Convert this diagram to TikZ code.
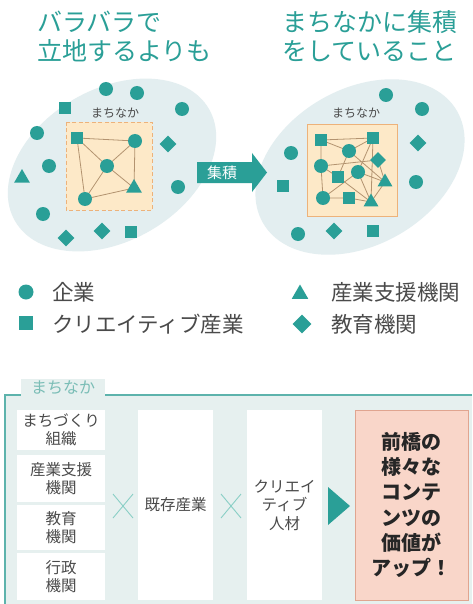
\documentclass[tikz,border=0pt]{standalone}
\usepackage{fontspec}
\setmainfont{Noto Sans CJK JP}
\usetikzlibrary{shapes.geometric,calc}
\definecolor{tealA}{HTML}{2A9F97}
\definecolor{ellfill}{HTML}{E3EEF0}
\definecolor{boxfill}{HTML}{FDE9C8}
\definecolor{boxline}{HTML}{EDB27A}
\definecolor{edgec}{HTML}{B39370}
\definecolor{txtgray}{HTML}{4A4A4A}
\definecolor{framefill}{HTML}{E6F0EF}
\definecolor{frameline}{HTML}{5DB3AC}
\definecolor{crossc}{HTML}{8ACFC6}
\definecolor{salmon}{HTML}{F9D6C9}
\definecolor{salmonline}{HTML}{E0A590}
\definecolor{tablabel}{HTML}{7ABDB6}
\tikzset{
  circ/.style={circle,fill=tealA,minimum size=14pt,inner sep=0pt},
  sq/.style={rectangle,fill=tealA,minimum size=12.5pt,inner sep=0pt},
  dia/.style={diamond,fill=tealA,minimum size=17pt,inner sep=0pt},
  tri/.style={regular polygon,regular polygon sides=3,fill=tealA,minimum size=18pt,inner sep=0pt},
  edge/.style={draw=edgec,line width=0.8pt},
  title/.style={anchor=west,inner sep=0pt,text=tealA,font=\fontsize{25}{29}\selectfont,text height=22pt,text depth=3pt},
  legend/.style={anchor=west,inner sep=0pt,text=txtgray,font=\fontsize{21.5}{26}\selectfont,text height=18.9pt,text depth=2.6pt},
  wbox/.style={draw=none,fill=white,inner sep=0pt,text=txtgray,align=center,font=\fontsize{15.5}{18.5}\selectfont},
  cross/.style={draw=crossc,line width=0.9pt},
}
\begin{document}
\begin{tikzpicture}[x=1pt,y=-1pt]
\useasboundingbox (0,0) rectangle (472,604);
\fill[white] (0,0) rectangle (472,604);
% titles
\node[title] (t1a) at (37,22) {バラバラで};
\node[title] (t1b) at (37,51) {立地するよりも};
\node[title] (t2a) at (282,22) {まちなかに集積};
\node[title] (t2b) at (282,51) {をしていること};
% ellipses
\fill[ellfill,rotate around={30:(112,165)}] (112,165) ellipse [x radius=112, y radius=76];
\fill[ellfill,rotate around={30:(360,167)}] (360,167) ellipse [x radius=112, y radius=78];
% arrow
\fill[tealA] (197,162) -- (252,162) -- (252,153) -- (267,172.5) -- (252,192) -- (252,183) -- (197,183) -- cycle;
\node[text=white,inner sep=0pt,font=\fontsize{15}{15}\selectfont] (arrlbl) at (222,172.5) {集積};
% left cluster
\node[text=txtgray,font=\fontsize{12}{12}\selectfont,inner sep=0pt] (lbl1) at (115,113) {まちなか};
\draw[boxline,fill=boxfill,line width=0.9pt,dash pattern=on 4pt off 2.5pt] (66,122) rectangle (152,210);
\node[circ] (l1) at (106,89) {};
\node[circ] (l2) at (137,93) {};
\node[sq] (l3) at (65,108) {};
\node[circ] (l4) at (182,109) {};
\node[circ] (l5) at (37,133) {};
\node[dia] (l6) at (168,144) {};
\node[circ] (l7) at (49,166) {};
\node[tri] (l8) at (22,178) {};
\node[circ] (l9) at (178,187) {};
\node[circ] (l10) at (43,214) {};
\node[dia] (l11) at (102,231) {};
\node[dia] (l12) at (66,238) {};
\node[sq] (l13) at (131,232) {};
% inner left
\coordinate (ia) at (77,138);
\coordinate (ib) at (135,141);
\coordinate (ic) at (107,166);
\coordinate (id) at (134,188);
\coordinate (ie) at (85,199);
\draw[edge] (ia) -- (ib) (ia) -- (ic) (ia) -- (ie) (ib) -- (ic) (ib) -- (id) (ic) -- (id) (ic) -- (ie) (ie) -- (id);
\node[sq] (i1) at (ia) {};
\node[circ] (i2) at (ib) {};
\node[circ] (i3) at (ic) {};
\node[tri] (i4) at (id) {};
\node[circ] (i5) at (ie) {};
% right cluster
\node[text=txtgray,font=\fontsize{12}{12}\selectfont,inner sep=0pt] (lbl2) at (356,113) {まちなか};
\draw[boxline,fill=boxfill,line width=1pt] (307,125) rectangle (397,216);
\node[circ] (r1) at (386,95) {};
\node[circ] (r2) at (422,109) {};
\node[dia] (r3) at (418,143) {};
\node[circ] (r4) at (291,153) {};
\node[sq] (r5) at (283,186) {};
\node[circ] (r6) at (416,182) {};
\node[circ] (r7) at (298,234) {};
\node[dia] (r8) at (334,231) {};
\node[sq] (r9) at (373,231) {};
% inner right
\coordinate (pS1) at (321,140);
\coordinate (pS2) at (373,138);
\coordinate (pC1) at (349,151);
\coordinate (pD1) at (378,160);
\coordinate (pC2) at (321,166);
\coordinate (pS3) at (338,177);
\coordinate (pC3) at (358,172);
\coordinate (pT1) at (385,182);
\coordinate (pC4) at (323,198);
\coordinate (pS4) at (349,198);
\coordinate (pT2) at (371,202);
\draw[edge] (pS1) -- (pS2) (pS1) -- (pC1) (pS1) -- (pC2)
  (pC1) -- (pS2) (pC1) -- (pT1) (pS2) -- (pC3) (pS2) -- (pT2)
  (pC2) -- (pD1) (pC2) -- (pC4) (pC2) -- (pS3) (pC1) -- (pS3)
  (pC3) -- (pT1) (pC3) -- (pT2) (pC4) -- (pS4) (pS4) -- (pT2)
  (pC4) -- (pC3) (pS3) -- (pT2) (pD1) -- (pT1) (pT1) -- (pT2);
\node[sq] (S1) at (pS1) {};
\node[sq] (S2) at (pS2) {};
\node[circ] (C1) at (pC1) {};
\node[dia,minimum size=16pt] (D1) at (pD1) {};
\node[circ] (C2) at (pC2) {};
\node[sq] (S3) at (pS3) {};
\node[circ] (C3) at (pC3) {};
\node[tri,minimum size=17pt] (T1) at (pT1) {};
\node[circ] (C4) at (pC4) {};
\node[sq] (S4) at (pS4) {};
\node[tri,minimum size=17pt] (T2) at (pT2) {};
% legend
\node[circ,minimum size=15pt] (k1) at (26,292) {};
\node[legend] (k1t) at (52,292) {企業};
\node[sq,minimum size=14pt] (k2) at (26,323) {};
\node[legend] (k2t) at (52,324) {クリエイティブ産業};
\node[tri,minimum size=19pt] (k3) at (300,294) {};
\node[legend] (k3t) at (331,292) {産業支援機関};
\node[dia,minimum size=19pt] (k4) at (302,324) {};
\node[legend] (k4t) at (331,324) {教育機関};
% bottom frame
\fill[framefill] (5,395) rectangle (472,604);
\draw[frameline,line width=1.2pt] (5,604) -- (5,395) -- (472,395);
\fill[framefill] (21,379) rectangle (105,396.4);
\node[text=tablabel,inner sep=0pt,font=\fontsize{16}{16}\selectfont] (tab) at (63,388) {まちなか};
% boxes
\node[wbox,minimum width=88pt,minimum height=40pt] (b1) at (61,430) {まちづくり\\組織};
\node[wbox,minimum width=88pt,minimum height=47pt] (b2) at (61,478.5) {産業支援\\機関};
\node[wbox,minimum width=88pt,minimum height=45pt] (b3) at (61,527.5) {教育\\機関};
\node[wbox,minimum width=88pt,minimum height=47pt] (b4) at (61,576.5) {行政\\機関};
\node[wbox,minimum width=75pt,minimum height=190pt] (b5) at (175.5,505) {既存産業};
\node[wbox,minimum width=75pt,minimum height=190pt] (b6) at (284.5,505) {クリエイ\\ティブ\\人材};
\node[draw=salmonline,fill=salmon,line width=1pt,inner sep=0pt,minimum width=113pt,minimum height=190pt,align=center,text=black!85,font=\fontsize{20}{25.2}\selectfont\bfseries] (b7) at (411.5,505) {前橋の\\様々な\\コンテ\\ンツの\\価値が\\アップ！};
% crosses
\coordinate (x1) at (123,506);
\coordinate (x2) at (231,506);
\draw[cross] ($(x1)+(-10,-12)$) -- ($(x1)+(10,12)$) ($(x1)+(-10,12)$) -- ($(x1)+(10,-12)$);
\draw[cross] ($(x2)+(-10,-12)$) -- ($(x2)+(10,12)$) ($(x2)+(-10,12)$) -- ($(x2)+(10,-12)$);
% arrow
\fill[tealA] (328,487) -- (350,506) -- (328,525) -- cycle;
\end{tikzpicture}
\end{document}
